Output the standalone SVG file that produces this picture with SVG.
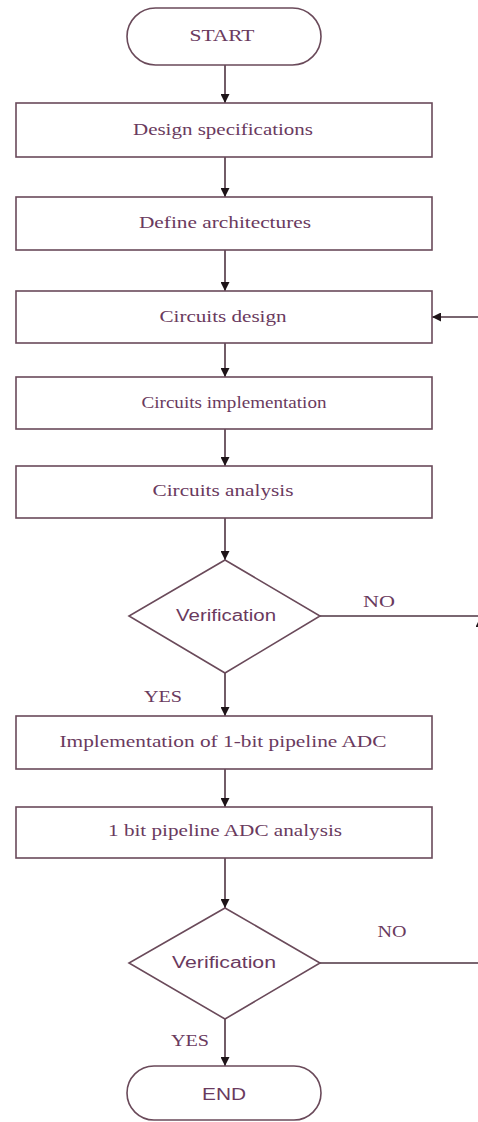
<svg xmlns="http://www.w3.org/2000/svg" width="478" height="1122" viewBox="0 0 478 1122">
<defs>
<marker id="ah" viewBox="0 0 10 10" refX="10" refY="5" markerWidth="10" markerHeight="9" markerUnits="userSpaceOnUse" orient="auto">
<path d="M0,0 L10,5 L0,10 z" fill="#1e1418"/>
</marker>
<style>
.n{fill:#fff;stroke:#6a4a5a;stroke-width:1.6}
.c{fill:none;stroke:#4e3442;stroke-width:1.6}
.s{font-family:"Liberation Serif",serif;font-size:16px;fill:#6a3a5e;text-anchor:middle}
.a{font-family:"Liberation Sans",Arial,sans-serif;font-size:16px;fill:#6a3a5e;text-anchor:middle}
</style>
</defs>
<rect width="478" height="1122" fill="#fff"/>
<g id="connectors">
<line class="c" x1="225" y1="65" x2="225" y2="103" marker-end="url(#ah)"/>
<line class="c" x1="225" y1="157" x2="225" y2="197" marker-end="url(#ah)"/>
<line class="c" x1="225" y1="250" x2="225" y2="291" marker-end="url(#ah)"/>
<line class="c" x1="225" y1="343" x2="225" y2="377" marker-end="url(#ah)"/>
<line class="c" x1="225" y1="429" x2="225" y2="466" marker-end="url(#ah)"/>
<line class="c" x1="225" y1="518" x2="225" y2="560" marker-end="url(#ah)"/>
<line class="c" x1="225" y1="673" x2="225" y2="716" marker-end="url(#ah)"/>
<line class="c" x1="225" y1="769" x2="225" y2="807" marker-end="url(#ah)"/>
<line class="c" x1="225" y1="858" x2="225" y2="908" marker-end="url(#ah)"/>
<line class="c" x1="225" y1="1019" x2="225" y2="1066" marker-end="url(#ah)"/>
<line class="c" x1="320" y1="616" x2="480" y2="616"/>
<polyline class="c" points="320,963 480,963 480,618" marker-end="url(#ah)"/>
<polyline class="c" points="480,618 480,317 432,317" marker-end="url(#ah)"/>
<text class="s" x="379" y="607" textLength="32" lengthAdjust="spacingAndGlyphs">NO</text>
<text class="s" x="163" y="702" textLength="38" lengthAdjust="spacingAndGlyphs">YES</text>
<text class="s" x="392" y="937" textLength="29" lengthAdjust="spacingAndGlyphs">NO</text>
<text class="s" x="190" y="1046" textLength="38" lengthAdjust="spacingAndGlyphs">YES</text>
</g>
<g id="start">
<rect class="n" x="127" y="8" width="194" height="57" rx="28.5"/>
<text class="s" x="222" y="41" textLength="65" lengthAdjust="spacingAndGlyphs">START</text>
</g>
<g id="spec">
<rect class="n" x="16" y="103" width="416" height="54"/>
<text class="s" x="223" y="135" textLength="180" lengthAdjust="spacingAndGlyphs">Design specifications</text>
</g>
<g id="arch">
<rect class="n" x="16" y="197" width="416" height="53"/>
<text class="s" x="225" y="228" textLength="172" lengthAdjust="spacingAndGlyphs">Define architectures</text>
</g>
<g id="cdesign">
<rect class="n" x="16" y="291" width="416" height="52"/>
<text class="s" x="223" y="322" textLength="127" lengthAdjust="spacingAndGlyphs">Circuits design</text>
</g>
<g id="cimpl">
<rect class="n" x="16" y="377" width="416" height="52"/>
<text class="s" x="234" y="408" textLength="185" lengthAdjust="spacingAndGlyphs">Circuits implementation</text>
</g>
<g id="canal">
<rect class="n" x="16" y="466" width="416" height="52"/>
<text class="s" x="223" y="496" textLength="141" lengthAdjust="spacingAndGlyphs">Circuits analysis</text>
</g>
<g id="verif1">
<polygon class="n" points="225,560 320,616 225,673 129,616"/>
<text class="a" x="226" y="621" textLength="100" lengthAdjust="spacingAndGlyphs">Verification</text>
</g>
<g id="impl1bit">
<rect class="n" x="16" y="716" width="416" height="53"/>
<text class="s" x="223" y="747" textLength="327" lengthAdjust="spacingAndGlyphs">Implementation of 1-bit pipeline ADC</text>
</g>
<g id="anal1bit">
<rect class="n" x="16" y="807" width="416" height="51"/>
<text class="s" x="225" y="836" textLength="234" lengthAdjust="spacingAndGlyphs">1 bit pipeline ADC analysis</text>
</g>
<g id="verif2">
<polygon class="n" points="225,908 320,963 225,1019 129,963"/>
<text class="a" x="224" y="968" textLength="104" lengthAdjust="spacingAndGlyphs">Verification</text>
</g>
<g id="end">
<rect class="n" x="127" y="1066" width="194" height="54" rx="27"/>
<text class="a" x="224" y="1100" textLength="44" lengthAdjust="spacingAndGlyphs">END</text>
</g>
</svg>
